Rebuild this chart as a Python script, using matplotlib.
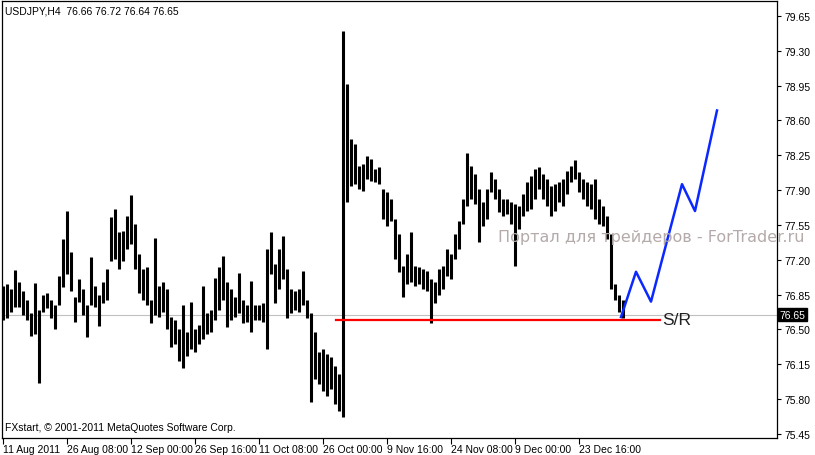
import numpy as np
import matplotlib.pyplot as plt

plt.rcParams['font.family'] = ['Liberation Sans', 'DejaVu Sans']

# USDJPY H4 highs / lows (one entry per sampled bar)
highs = [76.94, 76.96, 76.91, 77.10, 76.98, 76.89, 76.80, 76.67, 76.97, 76.70,
         76.85, 76.87, 76.80, 76.75, 77.04, 77.41, 77.69, 77.28, 76.83, 77.01,
         76.91, 76.75, 77.23, 76.94, 76.85, 76.98, 77.11, 77.63, 77.71, 77.48,
         77.49, 77.64, 77.85, 77.56, 77.26, 77.11, 77.13, 76.80, 77.42, 76.94,
         76.98, 76.91, 76.63, 76.60, 76.50, 76.75, 76.47, 76.78, 76.50, 76.55,
         76.94, 76.67, 76.70, 77.02, 77.13, 77.24, 76.98, 76.91, 76.83, 77.07,
         76.80, 76.75, 76.99, 76.75, 76.75, 76.77, 77.31, 77.48, 77.16, 77.31,
         77.44, 77.11, 76.91, 76.89, 76.91, 77.09, 76.80, 76.67, 76.47, 76.27,
         76.30, 76.25, 76.22, 76.13, 76.05, 79.50, 78.97, 78.41, 78.36, 78.14,
         78.16, 78.24, 78.21, 78.11, 78.13, 77.91, 77.88, 77.81, 77.61, 77.46,
         77.14, 77.26, 77.48, 77.14, 77.13, 77.11, 77.09, 77.01, 76.98, 77.11,
         77.14, 77.31, 77.26, 77.46, 77.59, 77.81, 78.27, 78.14, 78.06, 77.91,
         77.78, 77.91, 78.08, 78.01, 77.91, 77.81, 77.81, 77.78, 77.76, 77.74,
         77.86, 77.98, 78.04, 78.11, 78.13, 78.06, 78.01, 77.94, 77.96, 77.98,
         78.01, 78.09, 78.14, 78.20, 78.08, 78.01, 77.98, 77.96, 78.01, 77.81,
         77.74, 77.64, 77.46, 76.96, 76.85, 76.80]
lows = [76.60, 76.62, 76.68, 76.73, 76.73, 76.65, 76.60, 76.43, 76.45, 75.96,
        76.68, 76.72, 76.62, 76.50, 76.75, 76.93, 77.06, 76.89, 76.58, 76.78,
        76.65, 76.42, 76.75, 76.73, 76.54, 76.77, 76.80, 77.19, 77.21, 77.11,
        77.19, 77.31, 77.36, 77.11, 76.87, 76.80, 76.75, 76.57, 76.65, 76.63,
        76.68, 76.50, 76.32, 76.35, 76.18, 76.11, 76.23, 76.30, 76.27, 76.35,
        76.40, 76.45, 76.47, 76.60, 76.70, 76.80, 76.53, 76.60, 76.63, 76.67,
        76.57, 76.58, 76.47, 76.60, 76.60, 76.58, 76.30, 77.06, 76.77, 76.91,
        77.01, 76.62, 76.67, 76.70, 76.68, 76.75, 76.62, 75.77, 76.00, 75.95,
        75.88, 75.83, 75.90, 75.75, 75.68, 75.62, 77.78, 77.94, 77.96, 77.91,
        77.89, 78.01, 77.99, 77.98, 77.96, 77.61, 77.54, 77.59, 77.21, 77.08,
        76.83, 76.96, 76.98, 76.94, 76.96, 76.91, 76.89, 76.57, 76.77, 76.85,
        76.91, 77.04, 77.01, 77.21, 77.31, 77.56, 77.74, 77.81, 77.76, 77.38,
        77.54, 77.61, 77.88, 77.81, 77.68, 77.64, 77.66, 77.56, 77.14, 77.51,
        77.64, 77.69, 77.71, 77.81, 77.91, 77.81, 77.74, 77.64, 77.69, 77.78,
        77.74, 77.86, 77.98, 78.01, 77.88, 77.81, 77.74, 77.71, 77.61, 77.56,
        77.54, 77.41, 76.91, 76.80, 76.68, 76.62]

date_labels = ['11 Aug 2011', '26 Aug 08:00', '12 Sep 00:00', '26 Sep 16:00', '11 Oct 08:00',
               '26 Oct 00:00', '9 Nov 16:00', '24 Nov 08:00', '9 Dec 00:00', '23 Dec 16:00']
bars_per_label = 16

price_ticks = [75.45, 75.80, 76.15, 76.50, 76.85, 77.20, 77.55, 77.90, 78.25, 78.60, 78.95, 79.30, 79.65]
last_price = 76.65
sr_level = 76.60
sr_from, sr_to = 83.25, 164.25

# hand-drawn forecast path
proj_x = [154.5, 158.25, 162.0, 169.75, 173.0, 178.5]
proj_y = [76.625, 77.08, 76.78, 77.96, 77.69, 78.70]

W, H = 815, 456
fig = plt.figure(figsize=(W / 100, H / 100), dpi=100)
ax = fig.add_axes([2 / W, (H - 439) / H, 775 / W, 437 / H])

x = np.arange(len(highs))
ax.vlines(x, lows, highs, color='black', linewidth=2.2)

ax.axhline(last_price, color='#c0c0c0', linewidth=0.8, zorder=0)
ax.plot([sr_from, sr_to], [sr_level, sr_level], color='#ff0000', linewidth=1.6)
ax.plot(proj_x, proj_y, color='#0a28ff', linewidth=1.8)
ax.text(sr_to + 0.5, sr_level, 'S/R', fontsize=12.5, color='#222222', va='center', ha='left')

ax.set_xlim(-0.25, 193.5)
ax.set_ylim(75.41, 79.80)

ax.yaxis.tick_right()
ax.set_yticks(price_ticks)
ax.set_yticklabels(['%.2f' % p for p in price_ticks])
ax.tick_params(axis='y', direction='out', length=3, width=0.8, pad=2, labelsize=7.5)
ax.set_xticks(np.arange(len(date_labels)) * bars_per_label)
ax.set_xticklabels(date_labels, ha='left')
ax.tick_params(axis='x', direction='out', length=4, width=0.8, pad=0, labelsize=7.5)
for s in ax.spines.values():
    s.set_linewidth(0.9)

ax.text(1.003, last_price, '%.2f' % last_price, transform=ax.get_yaxis_transform(),
        fontsize=7.5, color='white', va='center', ha='left',
        bbox=dict(boxstyle='square,pad=0.15', facecolor='black', edgecolor='black'))

fig.text(5 / W, 1 - 12 / H, 'USDJPY,H4  76.66 76.72 76.64 76.65', fontsize=7.5, va='center')
fig.text(5 / W, 1 - 428 / H, 'FXstart, \u00a9 2001-2011 MetaQuotes Software Corp.', fontsize=7.5, va='center')
fig.text(498 / W, 1 - 238 / H, 'Портал для трейдеров - ForTrader.ru', fontsize=11.5,
         color='#b4aaaa', va='center', ha='left', family='DejaVu Sans')

plt.savefig('out.png', dpi=100)
